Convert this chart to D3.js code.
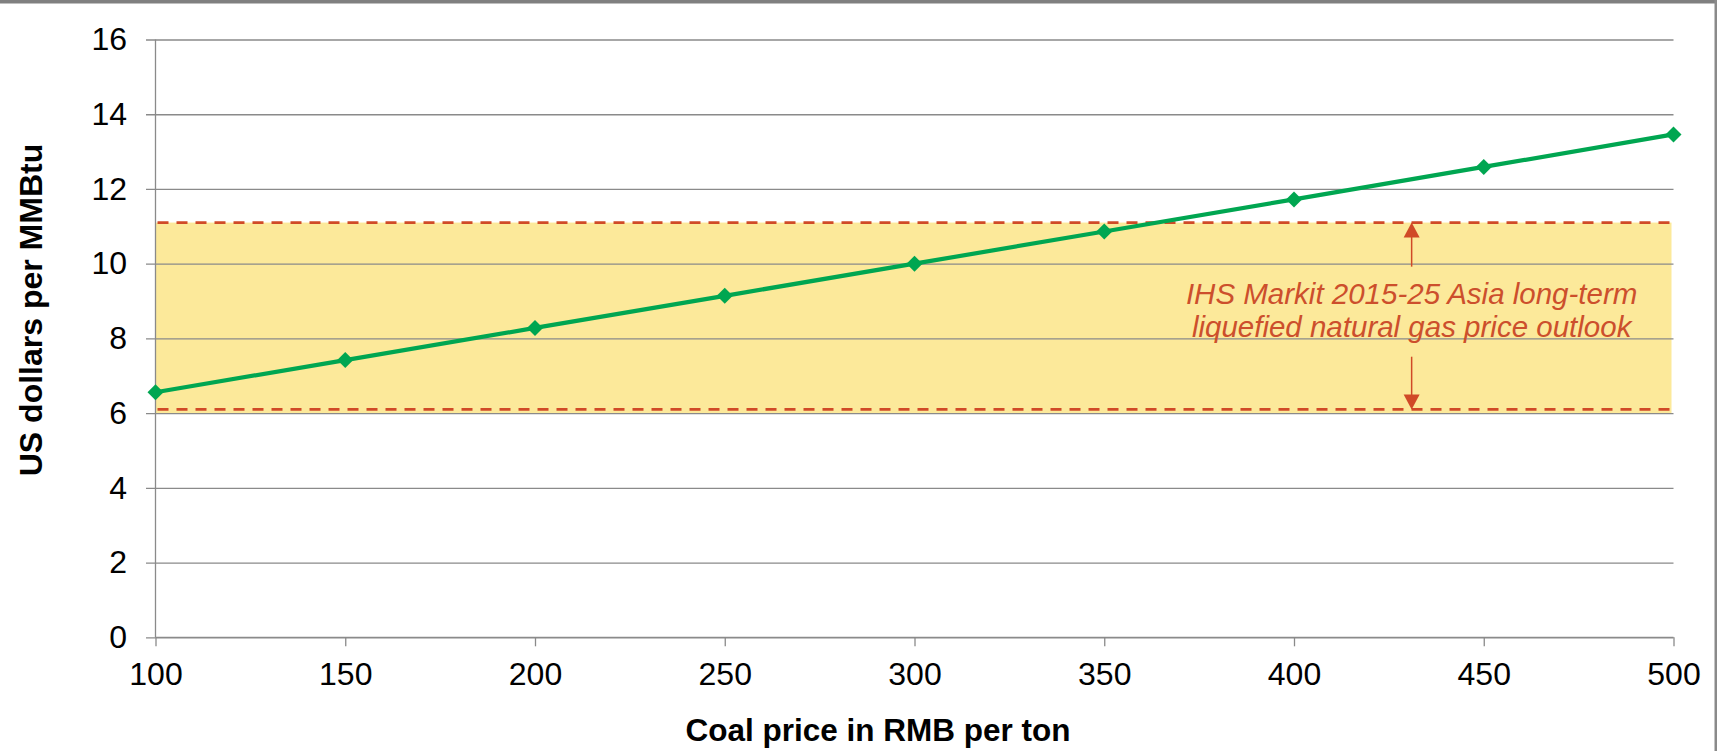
<!DOCTYPE html>
<html>
<head>
<meta charset="utf-8">
<script src="https://cdn.jsdelivr.net/npm/d3@7"></script>
<style>
  html, body { margin: 0; padding: 0; background: #fff; }
  svg { display: block; font-family: "Liberation Sans", Arial, sans-serif; }
</style>
</head>
<body>
<script>
// Coal price (RMB per ton) and the equivalent gas price (US$ per MMBtu)
const coalPrices = [100, 150, 200, 250, 300, 350, 400, 450, 500];
const gasEquivalent = [6.56, 7.42, 8.28, 9.14, 10.00, 10.86, 11.72, 12.59, 13.46];

// Asia long-term LNG price outlook range (US$ per MMBtu)
const outlookLow = 6.1;
const outlookHigh = 11.1;
const outlookFillLow = 6.0;

const xTicks = [100, 150, 200, 250, 300, 350, 400, 450, 500];
const yTicks = [0, 2, 4, 6, 8, 10, 12, 14, 16];

const outlookLabel = ["IHS Markit 2015-25 Asia long-term", "liquefied natural gas price outlook"];
const xTitle = "Coal price in RMB per ton";
const yTitle = "US dollars per MMBtu";

const W = 1717, H = 751;
const svg = d3.select("body").append("svg").attr("width", W).attr("height", H);

const x = d3.scaleLinear().domain([100, 500]).range([155.5, 1673.5]);
const y = d3.scaleLinear().domain([0, 16]).range([637.3, 39.5]);

const gridColor = "#8a8a8a";
const red = "#d04a27";
const green = "#00a651";

// frame: gray bar on top and rule on the right
svg.append("rect").attr("x", 0).attr("y", 0).attr("width", W).attr("height", 3.5).attr("fill", "#808080");
svg.append("rect").attr("x", W - 2.5).attr("y", 0).attr("width", 2.5).attr("height", H).attr("fill", "#8a8a8a");

// outlook band
svg.append("rect")
  .attr("x", x(100)).attr("y", y(outlookHigh))
  .attr("width", x(500) - x(100) - 2)
  .attr("height", y(outlookFillLow) - y(outlookHigh))
  .attr("fill", "#fce99a");

// horizontal gridlines with left ticks
const yAxis = d3.axisLeft(y).tickValues(yTicks).tickSize(-(x(500) - x(100))).tickPadding(20).tickFormat(d3.format("d"));
const gy = svg.append("g").attr("transform", `translate(${x(100)},0)`).call(yAxis);
gy.select(".domain").remove();
gy.selectAll(".tick line").attr("stroke", gridColor).attr("stroke-width", 1.3).attr("x1", -9.5);
gy.selectAll(".tick text").attr("font-size", 32).attr("fill", "#000").attr("x", -28.5)
  .attr("font-family", "Liberation Sans, Arial, sans-serif");

// vertical axis line
svg.append("line").attr("x1", x(100)).attr("x2", x(100)).attr("y1", y(16)).attr("y2", y(0))
  .attr("stroke", gridColor).attr("stroke-width", 1.3);

// x axis
const xAxis = d3.axisBottom(x).tickValues(xTicks).tickSize(9).tickPadding(16).tickFormat(d3.format("d"));
const gx = svg.append("g").attr("transform", `translate(0,${y(0)})`).call(xAxis);
gx.select(".domain").attr("stroke", gridColor).attr("stroke-width", 1.3).attr("d", `M${x(100)},0H${x(500)}`);
gx.selectAll(".tick line").attr("stroke", gridColor).attr("stroke-width", 1.3);
gx.selectAll(".tick text").attr("font-size", 32).attr("fill", "#000")
  .attr("font-family", "Liberation Sans, Arial, sans-serif");

// dashed bounds of the outlook range
[outlookHigh, outlookLow].forEach(v => {
  svg.append("line")
    .attr("x1", x(100) + 2).attr("x2", x(500) - 2)
    .attr("y1", y(v)).attr("y2", y(v))
    .attr("stroke", red).attr("stroke-width", 2.6)
    .attr("stroke-dasharray", "11,8");
});

// annotation arrows and label
const annX = x(431);
const arrowHead = (tipY, dir) => {
  const h = 15, w = 8;
  return `M${annX},${tipY}L${annX - w},${tipY + dir * h}L${annX + w},${tipY + dir * h}Z`;
};
svg.append("line").attr("x1", annX).attr("x2", annX).attr("y1", y(outlookHigh) + 10).attr("y2", y(9.92))
  .attr("stroke", red).attr("stroke-width", 1.5);
svg.append("path").attr("d", arrowHead(y(outlookHigh), 1)).attr("fill", red);
svg.append("line").attr("x1", annX).attr("x2", annX).attr("y1", y(7.51)).attr("y2", y(outlookLow) - 10)
  .attr("stroke", red).attr("stroke-width", 1.5);
svg.append("path").attr("d", arrowHead(y(outlookLow), -1)).attr("fill", red);

const bandMid = (y(outlookHigh) + y(outlookLow)) / 2;
svg.append("text")
  .attr("x", annX).attr("y", bandMid - 12)
  .attr("text-anchor", "middle").attr("font-style", "italic").attr("font-size", 29.5)
  .attr("fill", "#cc4f2c")
  .selectAll("tspan").data(outlookLabel).join("tspan")
  .attr("x", annX).attr("dy", (d, i) => i === 0 ? 0 : 33).text(d => d);

// series line and diamond markers
const pts = coalPrices.map((c, i) => [c, gasEquivalent[i]]);
svg.append("path")
  .attr("d", d3.line().x(d => x(d[0])).y(d => y(d[1]))(pts))
  .attr("fill", "none").attr("stroke", green).attr("stroke-width", 4.2);
svg.selectAll(".marker").data(pts).join("path")
  .attr("class", "marker")
  .attr("transform", d => `translate(${x(d[0])},${y(d[1])})`)
  .attr("d", "M0,-8L8,0L0,8L-8,0Z")
  .attr("fill", green);

// axis titles
svg.append("text")
  .attr("x", 878).attr("y", 741)
  .attr("text-anchor", "middle").attr("font-weight", "bold").attr("font-size", 31.5)
  .attr("fill", "#000").text(xTitle);
svg.append("text")
  .attr("transform", "translate(42,310) rotate(-90)")
  .attr("text-anchor", "middle").attr("font-weight", "bold").attr("font-size", 32)
  .attr("fill", "#000").text(yTitle);
</script>
</body>
</html>
